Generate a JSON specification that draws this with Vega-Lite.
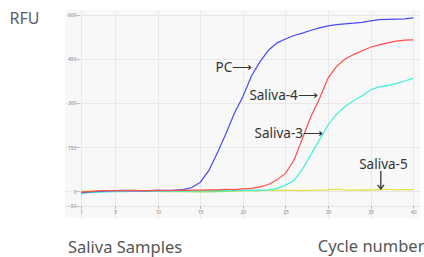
{
  "$schema": "https://vega.github.io/schema/vega-lite/v6.json",
  "width": 355,
  "height": 208,
  "autosize": {"type": "none"},
  "padding": {"left": 65, "top": 10, "right": 4, "bottom": 39},
  "background": "white",
  "config": {"view": {"fill": "#f8f8f8", "stroke": null}, "font": "Noto Sans"},
  "title": {"text": "Saliva Samples", "orient": "bottom", "anchor": "start", "frame": "group", "fontSize": 16.5, "fontWeight": "normal", "color": "#555555", "offset": 0, "dy": -15, "dx": 3},
  "layer": [
    {
      "data": {"values": [
        {"c":1,"PC":-6,"S4":-4,"S3":-9,"S5":0,"G":-3},
        {"c":2,"PC":-3,"S4":-2,"S3":-6,"S5":0,"G":-2},
        {"c":3,"PC":-1,"S4":0,"S3":-4,"S5":1,"G":-2},
        {"c":4,"PC":0,"S4":1,"S3":-3,"S5":1,"G":-1},
        {"c":5,"PC":1,"S4":1,"S3":-2,"S5":1,"G":-1},
        {"c":6,"PC":2,"S4":1,"S3":-2,"S5":1,"G":-1},
        {"c":7,"PC":1,"S4":2,"S3":-1,"S5":0,"G":0},
        {"c":8,"PC":0,"S4":1,"S3":-1,"S5":0,"G":-1},
        {"c":9,"PC":1,"S4":1,"S3":-1,"S5":0,"G":-1},
        {"c":10,"PC":2,"S4":2,"S3":-1,"S5":-1,"G":-1},
        {"c":11,"PC":2,"S4":1,"S3":-1,"S5":-1,"G":-2},
        {"c":12,"PC":3,"S4":2,"S3":0,"S5":0,"G":-2},
        {"c":13,"PC":5,"S4":2,"S3":0,"S5":-1,"G":-2},
        {"c":14,"PC":12,"S4":3,"S3":0,"S5":-2,"G":-2},
        {"c":15,"PC":30,"S4":3,"S3":0,"S5":-1,"G":-3},
        {"c":16,"PC":70,"S4":4,"S3":1,"S5":0,"G":-3},
        {"c":17,"PC":130,"S4":4,"S3":1,"S5":-1,"G":-2},
        {"c":18,"PC":195,"S4":6,"S3":2,"S5":1,"G":-1},
        {"c":19,"PC":265,"S4":5,"S3":2,"S5":0,"G":0},
        {"c":20,"PC":322,"S4":7,"S3":2,"S5":1,"G":1},
        {"c":21,"PC":392,"S4":9,"S3":2,"S5":2,"G":1},
        {"c":22,"PC":440,"S4":14,"S3":3,"S5":1,"G":1},
        {"c":23,"PC":480,"S4":22,"S3":4,"S5":2},
        {"c":24,"PC":505,"S4":38,"S3":8,"S5":3},
        {"c":25,"PC":518,"S4":60,"S3":20,"S5":2},
        {"c":26,"PC":530,"S4":105,"S3":36,"S5":2},
        {"c":27,"PC":538,"S4":180,"S3":75,"S5":1},
        {"c":28,"PC":548,"S4":255,"S3":125,"S5":2},
        {"c":29,"PC":556,"S4":315,"S3":175,"S5":3},
        {"c":30,"PC":563,"S4":385,"S3":225,"S5":4},
        {"c":31,"PC":567,"S4":425,"S3":262,"S5":6},
        {"c":32,"PC":570,"S4":450,"S3":288,"S5":3},
        {"c":33,"PC":572,"S4":465,"S3":308,"S5":3},
        {"c":34,"PC":575,"S4":478,"S3":325,"S5":4},
        {"c":35,"PC":580,"S4":490,"S3":345,"S5":3},
        {"c":36,"PC":584,"S4":498,"S3":355,"S5":5},
        {"c":37,"PC":585,"S4":505,"S3":360,"S5":6},
        {"c":38,"PC":586,"S4":511,"S3":366,"S5":4},
        {"c":39,"PC":587,"S4":514,"S3":375,"S5":5},
        {"c":40,"PC":590,"S4":515,"S3":384,"S5":5}
      ]},
      "transform": [{"fold": ["S5", "G", "S3", "PC", "S4"], "as": ["s", "v"]}],
      "mark": {"type": "line", "strokeWidth": 1.2},
      "encoding": {
        "x": {"field": "c", "type": "quantitative",
          "scale": {"domain": [-0.9, 40.8], "nice": false, "zero": false},
          "axis": {"values": [1, 5, 10, 15, 20, 25, 30, 35, 40], "offset": -12, "domain": false,
            "tickSize": 2, "tickColor": "#aaaaaa", "labelFontSize": 5, "labelColor": "#888888", "labelPadding": 1,
            "gridColor": "#e8e8e8", "gridWidth": 1,
            "title": "Cycle number", "titleFontSize": 16.5, "titleFontWeight": "normal", "titleColor": "#555555",
            "titleAlign": "right", "titleAnchor": null, "titleX": 359, "titleY": 40, "titleBaseline": "middle"}},
        "y": {"field": "v", "type": "quantitative",
          "scale": {"domain": [-92, 617], "nice": false, "zero": false},
          "axis": {"values": [-50, 0, 150, 300, 450, 600], "offset": -14, "domain": false,
            "tickSize": 2, "tickColor": "#aaaaaa", "labelFontSize": 5, "labelColor": "#888888", "labelPadding": 1,
            "gridColor": "#e8e8e8", "gridWidth": 1,
            "title": "RFU", "titleFontSize": 16, "titleFontWeight": "normal", "titleColor": "#5a6070",
            "titleAngle": 0, "titleAlign": "center", "titleAnchor": null, "titleX": -55, "titleY": 8, "titleBaseline": "middle"}},
        "color": {"field": "s", "type": "nominal",
          "scale": {"domain": ["S5", "G", "S3", "PC", "S4"], "range": ["#e8e040", "#90e060", "#40f0d8", "#4a4af5", "#ff4d4d"]},
          "legend": null}
      }
    },
    {
      "data": {"values": [
        {"x": 21.1, "y": 419, "t": "PC⟶"},
        {"x": 28.8, "y": 324, "t": "Saliva-4⟶"},
        {"x": 29.4, "y": 194, "t": "Saliva-3⟶"}
      ]},
      "mark": {"type": "text", "baseline": "middle", "align": "right", "color": "#333333", "fontSize": 13.5},
      "encoding": {
        "x": {"field": "x", "type": "quantitative"},
        "y": {"field": "y", "type": "quantitative"},
        "text": {"field": "t"}
      }
    },
    {
      "data": {"values": [
        {"x": 36.5, "y": 88, "t": "Saliva-5"}
      ]},
      "mark": {"type": "text", "baseline": "middle", "align": "center", "color": "#333333", "fontSize": 13.5},
      "encoding": {
        "x": {"field": "x", "type": "quantitative"},
        "y": {"field": "y", "type": "quantitative"},
        "text": {"field": "t"}
      }
    },
    {
      "data": {"values": [
        {"x": 36.2, "y1": 68, "y2": 7}
      ]},
      "mark": {"type": "rule", "color": "#333333", "strokeWidth": 1.3},
      "encoding": {
        "x": {"field": "x", "type": "quantitative"},
        "y": {"field": "y1", "type": "quantitative"},
        "y2": {"field": "y2"}
      }
    },
    {
      "data": {"values": [
        {"x": 36.2, "y": 7}
      ]},
      "mark": {"type": "point", "shape": "M-1,-1.3L0,0L1,-1.3", "filled": false, "color": "#333333", "strokeWidth": 1.3, "size": 40, "opacity": 1},
      "encoding": {
        "x": {"field": "x", "type": "quantitative"},
        "y": {"field": "y", "type": "quantitative"}
      }
    }
  ]
}
